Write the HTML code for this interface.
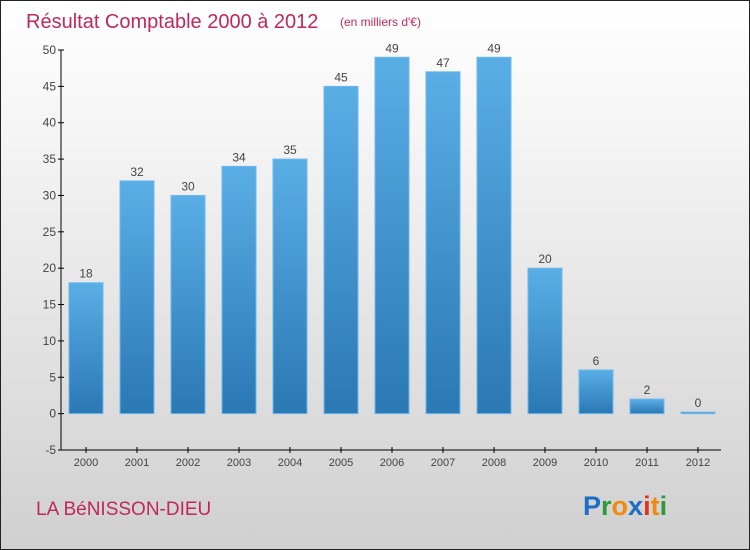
<!DOCTYPE html>
<html><head><meta charset="utf-8"><style>
html,body{margin:0;padding:0;}
body{width:750px;height:550px;overflow:hidden;font-family:"Liberation Sans","DejaVu Sans",sans-serif;}
#wrap{position:absolute;left:0;top:0;width:748px;height:548px;border:1px solid #222;background:linear-gradient(#ffffff 0%,#f4f4f4 25%,#d0d0d0 100%);}
</style></head><body>
<div id="wrap">
<svg id="chart" width="750" height="550" style="position:absolute;left:-1px;top:-1px">
<defs>
<linearGradient id="bg" x1="0" y1="0" x2="0" y2="1">
<stop offset="0" stop-color="#5aaee6"/><stop offset="1" stop-color="#2a78b4"/>
</linearGradient>
</defs>
<text x="26" y="28" font-size="20" fill="#c0285a" font-weight="300">Résultat Comptable 2000 à 2012</text>
<text x="340" y="26" font-size="12" fill="#c0285a">(en milliers d'€)</text>
<text x="36" y="515" font-size="19" fill="#c0285a">LA BéNISSON-DIEU</text>
<text x="583" y="515" font-size="27" font-weight="bold"><tspan fill="#1a6fc6">P</tspan><tspan fill="#2a9a3a">r</tspan><tspan fill="#f08a10">o</tspan><tspan fill="#1a6fc6">x</tspan><tspan fill="#e8301a">i</tspan><tspan fill="#f08a10">t</tspan><tspan fill="#2a9a3a">i</tspan></text>
<g id="axes"></g>
<g id="bars"></g>
</svg>
</div>
<script>
const years=["2000","2001","2002","2003","2004","2005","2006","2007","2008","2009","2010","2011","2012"];
const values=[18,32,30,34,35,45,49,47,49,20,6,2,0];
const yTicks=[-5,0,5,10,15,20,25,30,35,40,45,50];
const NS="http://www.w3.org/2000/svg";
const yMin=-5,yMax=50,yTop=50,yBot=450;
function yScale(v){return yBot-(v-yMin)/(yMax-yMin)*(yBot-yTop);}
function xScale(i){return 86+i*51;}
function mk(tag,attrs,parent){const e=document.createElementNS(NS,tag);for(const k in attrs)e.setAttribute(k,attrs[k]);parent.appendChild(e);return e;}
const axes=document.getElementById('axes'),bars=document.getElementById('bars');
let l=mk('line',{x1:61,y1:yTop,x2:61,y2:yBot,stroke:'#000','stroke-width':1},axes);


l=mk('line',{x1:61,y1:yBot,x2:721,y2:yBot,stroke:'#000','stroke-width':1},axes);


yTicks.forEach(v=>{const y=yScale(v);
 mk('line',{x1:58,y1:y,x2:64,y2:y,stroke:'#000'},axes);
 const t=mk('text',{x:56,y:y+4,'font-size':12,fill:'#444','text-anchor':'end'},axes);t.textContent=v;
 
 
});
years.forEach((yr,i)=>{const x=xScale(i);
 mk('line',{x1:x,y1:yBot-3,x2:x,y2:yBot+3,stroke:'#000'},axes);
 const t=mk('text',{x:x,y:466,'font-size':11,fill:'#444','text-anchor':'middle'},axes);t.textContent=yr;
 
 
 const v=values[i];const y0=yScale(0),y1=yScale(v);
 const h=Math.max(y0-y1,1.5);
 const r=mk('rect',{x:x-17,y:y0-h,width:34,height:h,fill:'url(#bg)',stroke:'#6db8ec','stroke-width':1},bars);
 
 
 const vt=mk('text',{x:x,y:y0-h-5,'font-size':12,fill:'#444','text-anchor':'middle'},bars);vt.textContent=v;
 
 
});
</script>
</body></html>
